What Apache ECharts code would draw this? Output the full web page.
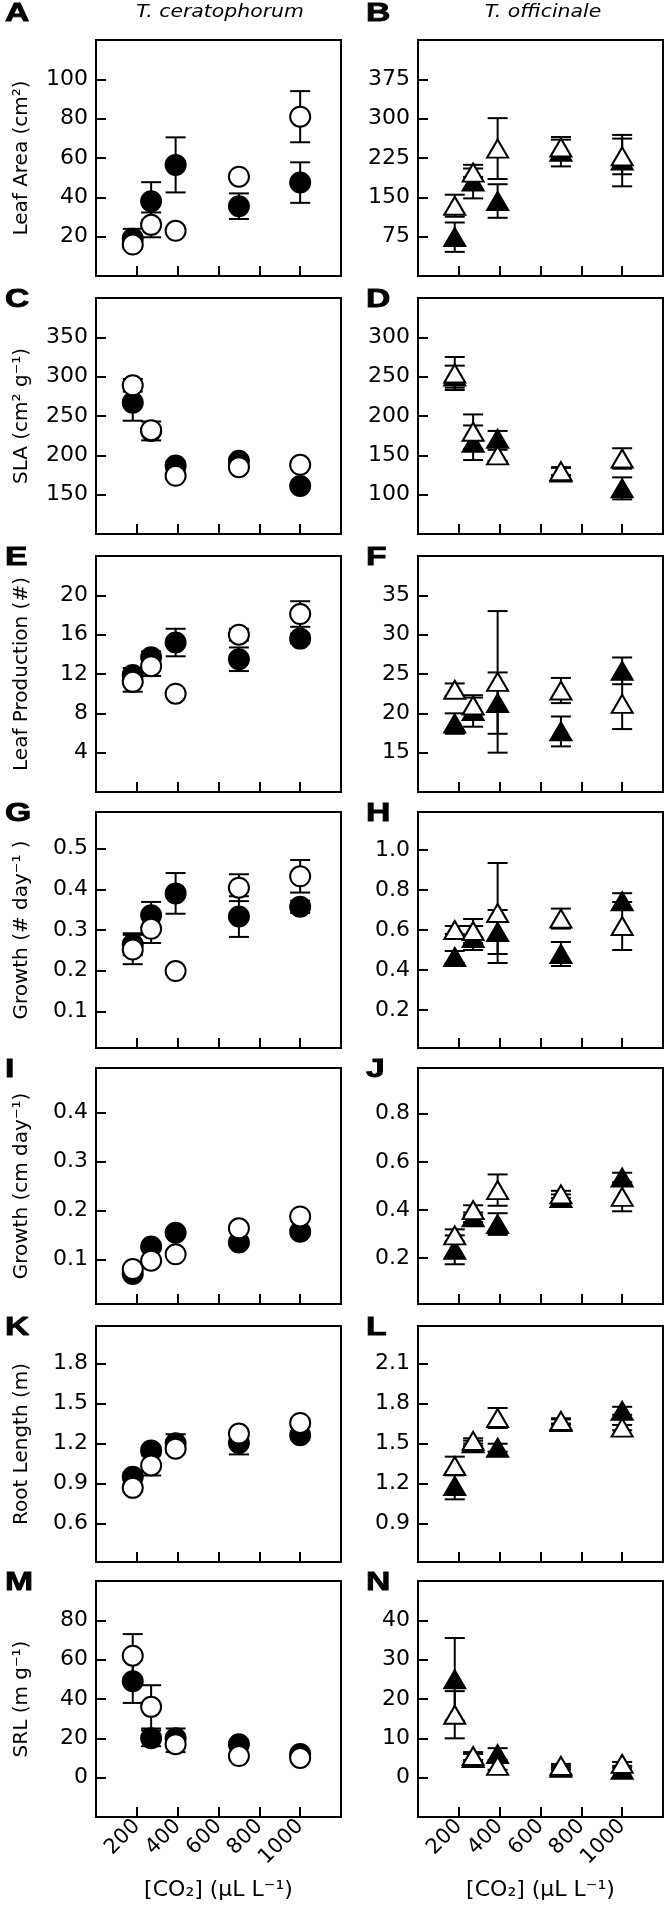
<!DOCTYPE html>
<html><head><meta charset="utf-8">
<script src="https://cdn.jsdelivr.net/npm/echarts@6/dist/echarts.min.js"></script>
<style>html,body{margin:0;padding:0;background:#fff}#c{width:667px;height:1917px}</style>
</head><body><div id="c"></div>
<script>
// ---------------- DATA ----------------
const co2 = [180, 270, 390, 700, 1000];
const xTicks = [200, 400, 600, 800, 1000];
const xTitle = '[CO₂] (μL L⁻¹)';
const colTitles = ['T. ceratophorum', 'T. officinale'];

// A: Leaf Area, T. ceratophorum
const A_filled = [19, 38, 56.5, 35.5, 47.5];
const A_filledErr = [5, 9.7, 14, 6.5, 10.3];
const A_open = [16, 26, 23, 50.5, 81];
const A_openErr = [2, 6.3, 1, 1, 13];
const A_ticks = [20, 40, 60, 80, 100];
// B: Leaf Area, T. officinale
const B_filled = [74, 180, 143, 237, 220];
const B_filledErr = [28, 32, 32, 28, 49];
const B_open = [134, 197, 243, 245, 228];
const B_openErr = [21, 8, 58, 15, 34];
const B_ticks = [75, 150, 225, 300, 375];
// C: SLA
const C_filled = [267, 231, 187, 193, 161];
const C_filledErr = [23, 12, 5, 4, 4];
const C_open = [289, 232, 174, 185, 188];
const C_openErr = [8, 5, 4, 4, 4];
const C_ticks = [150, 200, 250, 300, 350];
// D
const D_filled = [250, 166, 171, 128, 108];
const D_filledErr = [14, 22, 10, 6, 14];
const D_open = [254, 180, 150, 130, 146];
const D_openErr = [21, 22, 7, 5, 13];
const D_ticks = [100, 150, 200, 250, 300];
// E: Leaf production
const E_filled = [11.9, 13.7, 15.2, 13.5, 15.6];
const E_filledErr = [0.7, 0.6, 1.4, 1.2, 0.5];
const E_open = [11.2, 12.8, 10.0, 16.0, 18.1];
const E_openErr = [1.0, 1.0, 0.3, 0.6, 1.3];
const E_ticks = [4, 8, 12, 16, 20];
// F
const F_filled = [18.7, 20.3, 21.3, 17.7, 25.4];
const F_filledErr = [1.3, 2, 3.9, 1.9, 1.7];
const F_open = [23.0, 21.0, 24.0, 22.9, 21.2];
const F_openErr = [0.8, 1, 9, 1.6, 3.2];
const F_ticks = [15, 20, 25, 30, 35];
// G: Growth (# day-1)
const G_filled = [0.265, 0.336, 0.39, 0.333, 0.357];
const G_filledErr = [0.027, 0.033, 0.05, 0.05, 0.015];
const G_open = [0.252, 0.303, 0.199, 0.404, 0.432];
const G_openErr = [0.036, 0.035, 0.005, 0.033, 0.04];
const G_ticks = [0.1, 0.2, 0.3, 0.4, 0.5];
// H
const H_filled = [0.465, 0.56, 0.59, 0.48, 0.744];
const H_filledErr = [0.03, 0.06, 0.11, 0.06, 0.04];
const H_open = [0.60, 0.595, 0.685, 0.657, 0.62];
const H_openErr = [0.02, 0.06, 0.25, 0.05, 0.12];
const H_ticks = [0.2, 0.4, 0.6, 0.8, 1.0];
// I: Growth (cm day-1)
const I_filled = [0.071, 0.127, 0.155, 0.135, 0.157];
const I_filledErr = [0.005, 0.005, 0.006, 0.006, 0.008];
const I_open = [0.081, 0.098, 0.111, 0.164, 0.188];
const I_openErr = [0.004, 0.005, 0.005, 0.005, 0.005];
const I_ticks = [0.1, 0.2, 0.3, 0.4];
// J
const J_filled = [0.235, 0.37, 0.342, 0.45, 0.535];
const J_filledErr = [0.06, 0.02, 0.045, 0.015, 0.02];
const J_open = [0.295, 0.40, 0.483, 0.465, 0.455];
const J_openErr = [0.025, 0.02, 0.065, 0.015, 0.06];
const J_ticks = [0.2, 0.4, 0.6, 0.8];
// K: Root length
const K_filled = [0.95, 1.147, 1.2, 1.203, 1.26];
const K_filledErr = [0.03, 0.03, 0.068, 0.086, 0.03];
const K_open = [0.866, 1.034, 1.16, 1.273, 1.353];
const K_openErr = [0.03, 0.075, 0.03, 0.03, 0.03];
const K_ticks = [0.6, 0.9, 1.2, 1.5, 1.8];
// L
const L_filled = [1.18, 1.50, 1.467, 1.66, 1.744];
const L_filledErr = [0.1, 0.02, 0.03, 0.02, 0.03];
const L_open = [1.33, 1.518, 1.69, 1.668, 1.618];
const L_openErr = [0.07, 0.02, 0.075, 0.02, 0.02];
const L_ticks = [0.9, 1.2, 1.5, 1.8, 2.1];
// M: SRL
const M_filled = [49, 20, 20, 17, 12];
const M_filledErr = [11, 4, 5, 2, 1];
const M_open = [62, 36, 17, 11, 10];
const M_openErr = [11, 11, 4, 1, 1];
const M_ticks = [0, 20, 40, 60, 80];
// N
const N_filled = [25, 5, 6, 2.5, 2];
const N_filledErr = [10.5, 1, 1.5, 0.5, 0.5];
const N_open = [16, 5.5, 3, 3, 3.5];
const N_openErr = [6, 1, 1, 0.5, 0.5];
const N_ticks = [0, 10, 20, 30, 40];

// ---------------- PANELS ----------------
const panels = [
  {id:'A', col:0, row:0, min:0, max:120, ticks:A_ticks, dec:0, name:'Leaf Area (cm²)', f:A_filled, fe:A_filledErr, o:A_open, oe:A_openErr},
  {id:'B', col:1, row:0, min:0, max:450, ticks:B_ticks, dec:0, name:'', f:B_filled, fe:B_filledErr, o:B_open, oe:B_openErr},
  {id:'C', col:0, row:1, min:100, max:400, ticks:C_ticks, dec:0, name:'SLA (cm² g⁻¹)', f:C_filled, fe:C_filledErr, o:C_open, oe:C_openErr},
  {id:'D', col:1, row:1, min:50, max:350, ticks:D_ticks, dec:0, name:'', f:D_filled, fe:D_filledErr, o:D_open, oe:D_openErr},
  {id:'E', col:0, row:2, min:0, max:24, ticks:E_ticks, dec:0, name:'Leaf Production (#)', f:E_filled, fe:E_filledErr, o:E_open, oe:E_openErr},
  {id:'F', col:1, row:2, min:10, max:40, ticks:F_ticks, dec:0, name:'', f:F_filled, fe:F_filledErr, o:F_open, oe:F_openErr},
  {id:'G', col:0, row:3, min:0.01, max:0.59, ticks:G_ticks, dec:1, name:'Growth (# day⁻¹ )', f:G_filled, fe:G_filledErr, o:G_open, oe:G_openErr},
  {id:'H', col:1, row:3, min:0.01, max:1.19, ticks:H_ticks, dec:1, name:'', f:H_filled, fe:H_filledErr, o:H_open, oe:H_openErr},
  {id:'I', col:0, row:4, min:0.01, max:0.49, ticks:I_ticks, dec:1, name:'Growth (cm day⁻¹)', f:I_filled, fe:I_filledErr, o:I_open, oe:I_openErr},
  {id:'J', col:1, row:4, min:0.01, max:0.99, ticks:J_ticks, dec:1, name:'', f:J_filled, fe:J_filledErr, o:J_open, oe:J_openErr},
  {id:'K', col:0, row:5, min:0.31, max:2.08, ticks:K_ticks, dec:1, name:'Root Length (m)', f:K_filled, fe:K_filledErr, o:K_open, oe:K_openErr},
  {id:'L', col:1, row:5, min:0.61, max:2.38, ticks:L_ticks, dec:1, name:'', f:L_filled, fe:L_filledErr, o:L_open, oe:L_openErr},
  {id:'M', col:0, row:6, min:-20, max:100, ticks:M_ticks, dec:0, name:'SRL (m g⁻¹)', f:M_filled, fe:M_filledErr, o:M_open, oe:M_openErr},
  {id:'N', col:1, row:6, min:-10, max:50, ticks:N_ticks, dec:0, name:'', f:N_filled, fe:N_filledErr, o:N_open, oe:N_openErr}
];

// ---------------- LAYOUT ----------------
const rowTops = [40, 298, 556, 812, 1068, 1326, 1581];
const colLefts = [96, 418];
const plotW = 245, plotH = 236;
const FONT = 'DejaVu Sans';
const BLACK = '#000';

function errRender(params, api) {
  const x = api.value(0), lo = api.value(1), hi = api.value(2);
  const p1 = api.coord([x, hi]), p2 = api.coord([x, lo]);
  const hw = 10;
  const style = {stroke: BLACK, lineWidth: 2, fill: null};
  return {type: 'group', children: [
    {type: 'line', shape: {x1: p1[0], y1: p1[1], x2: p2[0], y2: p2[1]}, style: style},
    {type: 'line', shape: {x1: p1[0] - hw, y1: p1[1], x2: p1[0] + hw, y2: p1[1]}, style: style},
    {type: 'line', shape: {x1: p2[0] - hw, y1: p2[1], x2: p2[0] + hw, y2: p2[1]}, style: style}
  ]};
}

const grid = [], xAxis = [], yAxis = [], series = [], graphic = [];
panels.forEach((p, i) => {
  const bottom = p.row === 6;
  grid.push({left: colLefts[p.col], top: rowTops[p.row], width: plotW, height: plotH,
    show: true, borderColor: BLACK, borderWidth: 2, backgroundColor: 'transparent', containLabel: false});
  xAxis.push({type: 'value', gridIndex: i, min: 0, max: 1200,
    axisLine: {show: true, onZero: false, lineStyle: {color: BLACK, width: 2}},
    axisTick: {show: true, inside: true, length: 10, customValues: xTicks, lineStyle: {color: BLACK, width: 2}},
    axisLabel: {show: bottom, customValues: xTicks, rotate: 45, fontSize: 21, fontFamily: FONT, color: BLACK, margin: 6,
      formatter: (v) => String(Math.round(v))},
    splitLine: {show: false},
    name: bottom ? xTitle : '', nameLocation: 'middle', nameGap: 62,
    nameTextStyle: {fontSize: 22, fontFamily: FONT, color: BLACK}
  });
  yAxis.push({type: 'value', gridIndex: i, min: p.min, max: p.max,
    axisLine: {show: true, onZero: false, lineStyle: {color: BLACK, width: 2}},
    axisTick: {show: true, inside: true, length: 10, customValues: p.ticks, lineStyle: {color: BLACK, width: 2}},
    axisLabel: {show: true, customValues: p.ticks, fontSize: 22, fontFamily: FONT, color: BLACK, margin: 8,
      formatter: (v) => Number(v).toFixed(p.dec)},
    splitLine: {show: false},
    name: p.name, nameLocation: 'middle', nameRotate: 90, nameGap: 64,
    nameTextStyle: {fontSize: 20, fontFamily: FONT, color: BLACK}
  });
  const mkErr = (m, e) => co2.map((c, k) => [c, m[k] - e[k], m[k] + e[k]]);
  const mkPts = (m) => co2.map((c, k) => [c, m[k]]);
  const isTri = p.col === 1;
  series.push({type: 'custom', xAxisIndex: i, yAxisIndex: i, renderItem: errRender,
    encode: {x: 0, y: [1, 2]}, data: mkErr(p.f, p.fe), z: 2, silent: true, clip: false});
  series.push({type: 'custom', xAxisIndex: i, yAxisIndex: i, renderItem: errRender,
    encode: {x: 0, y: [1, 2]}, data: mkErr(p.o, p.oe), z: 2, silent: true, clip: false});
  series.push({type: 'scatter', xAxisIndex: i, yAxisIndex: i, data: mkPts(p.f), z: 3,
    symbol: isTri ? 'triangle' : 'circle', symbolSize: isTri ? [21, 18] : 20,
    itemStyle: {color: BLACK, borderColor: BLACK, borderWidth: 2, opacity: 1}, silent: true});
  series.push({type: 'scatter', xAxisIndex: i, yAxisIndex: i, data: mkPts(p.o), z: 4,
    symbol: isTri ? 'triangle' : 'circle', symbolSize: isTri ? [21, 18] : 20,
    itemStyle: {color: '#fff', borderColor: BLACK, borderWidth: 2, opacity: 1}, silent: true});

  const ly = p.row === 0 ? 14 : rowTops[p.row] + 2;
  graphic.push({type: 'text', x: p.col === 0 ? 5 : 366, y: ly, scaleX: 1.35, scaleY: 1,
    style: {text: p.id, fontSize: 25, fontWeight: 'bold', fontFamily: 'Liberation Sans', fill: BLACK,
      stroke: BLACK, lineWidth: 0.8, align: 'left', verticalAlign: 'middle'}});
});

graphic.push({type: 'text', x: 220, y: 13, scaleX: 1.2,
  style: {text: colTitles[0], fontSize: 17, fontStyle: 'italic', fontFamily: FONT, fill: BLACK, align: 'center', verticalAlign: 'middle'}});
graphic.push({type: 'text', x: 543, y: 13, scaleX: 1.2,
  style: {text: colTitles[1], fontSize: 17, fontStyle: 'italic', fontFamily: FONT, fill: BLACK, align: 'center', verticalAlign: 'middle'}});

const chart = echarts.init(document.getElementById('c'), null, {renderer: 'canvas'});
chart.setOption({
  animation: false,
  backgroundColor: '#fff',
  grid: grid, xAxis: xAxis, yAxis: yAxis, series: series, graphic: graphic
});
</script>
</body></html>
